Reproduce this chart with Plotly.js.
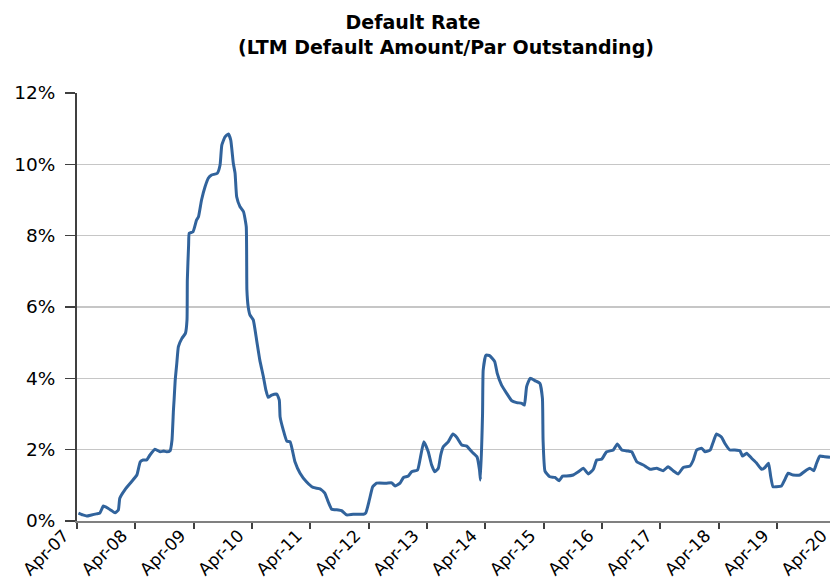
<!DOCTYPE html>
<html>
<head>
<meta charset="utf-8">
<script src="https://cdn.plot.ly/plotly-3.0.1.min.js"></script>
<style>
html, body { margin:0; padding:0; overflow:hidden; background:#fff; width:830px; height:578px; }
#chart { width:850px; height:578px; }
</style>
</head>
<body>
<div id="chart"></div>
<script>
const titleLine1 = "Default Rate";
const titleLine2 = "(LTM Default Amount/Par Outstanding)";

const dates = [
"2007-04-10","2007-05-07","2007-06-01","2007-07-01","2007-08-01","2007-08-22","2007-09-13","2007-10-04","2007-11-01","2007-11-25",
"2007-12-16","2007-12-25","2008-01-28","2008-03-07","2008-04-10","2008-05-01","2008-05-19","2008-06-10","2008-07-01","2008-08-01",
"2008-09-04","2008-09-25","2008-10-13","2008-11-04","2008-11-16","2008-11-25","2008-11-29","2008-12-06","2008-12-16","2008-12-26",
"2009-01-17","2009-02-08","2009-02-18","2009-02-20","2009-02-28","2009-03-04","2009-03-28","2009-04-19","2009-05-01","2009-05-20",
"2009-06-11","2009-07-01","2009-07-22","2009-08-27","2009-09-13","2009-09-24","2009-10-14","2009-11-04","2009-11-19","2009-12-05",
"2009-12-16","2009-12-26","2010-01-16","2010-02-07","2010-02-24","2010-02-28","2010-03-08","2010-03-19","2010-04-09","2010-04-30",
"2010-05-20","2010-06-11","2010-06-27","2010-07-11","2010-08-02","2010-09-03","2010-09-19","2010-09-24","2010-10-14","2010-11-05",
"2010-11-26","2010-12-26","2011-01-27","2011-03-08","2011-04-19","2011-06-01","2011-07-01","2011-07-22","2011-08-13","2011-09-24",
"2011-10-14","2011-11-15","2011-12-26","2012-02-28","2012-03-14","2012-04-05","2012-04-26","2012-05-20","2012-07-22","2012-08-23",
"2012-09-14","2012-10-14","2012-11-05","2012-12-05","2012-12-26","2013-02-01","2013-02-18","2013-03-12","2013-04-09","2013-04-30",
"2013-05-20","2013-06-11","2013-06-26","2013-07-12","2013-08-12","2013-09-10","2013-10-04","2013-11-05","2013-12-06","2014-01-07",
"2014-02-08","2014-02-24","2014-03-02","2014-03-15","2014-03-19","2014-04-05","2014-04-30","2014-05-30","2014-06-15","2014-07-12",
"2014-08-13","2014-09-14","2014-10-15","2014-11-15","2014-12-02","2014-12-16","2015-01-07","2015-02-08","2015-03-09","2015-03-25",
"2015-03-29","2015-04-10","2015-05-10","2015-06-11","2015-07-08","2015-07-29","2015-08-23","2015-10-04","2015-11-05","2015-12-06",
"2016-01-07","2016-02-07","2016-02-28","2016-03-29","2016-04-30","2016-06-11","2016-07-06","2016-08-03","2016-09-13","2016-10-04",
"2016-11-05","2016-12-16","2017-01-27","2017-03-09","2017-04-19","2017-05-20","2017-06-21","2017-07-22","2017-08-23","2017-10-04",
"2017-10-25","2017-11-15","2017-12-16","2018-01-07","2018-02-08","2018-02-24","2018-03-19","2018-04-20","2018-05-10","2018-06-11",
"2018-07-12","2018-08-13","2018-08-29","2018-09-24","2018-10-25","2018-11-26","2018-12-27","2019-01-17","2019-02-08","2019-02-22",
"2019-03-08","2019-03-29","2019-04-30","2019-05-20","2019-06-11","2019-07-12","2019-08-23","2019-10-04","2019-10-25","2019-11-19",
"2019-12-06","2019-12-26","2020-01-27","2020-02-28"
];

const defaultRate = [
0.22,0.17,0.14,0.17,0.20,0.22,0.42,0.38,0.30,0.23,
0.31,0.64,0.89,1.10,1.29,1.66,1.71,1.71,1.85,2.01,
1.94,1.96,1.94,1.97,2.27,3.11,3.39,3.95,4.42,4.89,
5.12,5.26,5.64,6.76,7.74,8.07,8.11,8.44,8.53,9.00,
9.37,9.61,9.70,9.75,9.98,10.54,10.77,10.85,10.68,10.03,
9.75,9.09,8.81,8.67,8.25,6.48,6.01,5.78,5.64,5.07,
4.51,4.05,3.67,3.47,3.53,3.56,3.39,2.92,2.55,2.24,
2.22,1.66,1.34,1.10,0.94,0.90,0.78,0.54,0.33,0.31,
0.29,0.17,0.19,0.19,0.23,0.59,0.96,1.06,1.06,1.07,
0.98,1.06,1.22,1.26,1.38,1.43,1.76,2.22,1.94,1.57,
1.38,1.48,1.85,2.08,2.22,2.44,2.35,2.13,2.10,1.94,
1.80,1.43,1.15,3.02,4.23,4.65,4.63,4.47,4.14,3.81,
3.58,3.37,3.32,3.30,3.25,3.77,4.00,3.93,3.86,3.44,
2.27,1.40,1.24,1.22,1.13,1.26,1.26,1.29,1.38,1.48,
1.32,1.45,1.71,1.73,1.94,1.99,2.16,1.99,1.96,1.94,
1.66,1.57,1.45,1.48,1.41,1.52,1.41,1.32,1.50,1.54,
1.71,1.99,2.04,1.94,1.99,2.18,2.44,2.35,2.18,1.99,
1.99,1.97,1.82,1.90,1.76,1.62,1.45,1.50,1.62,1.24,
0.96,0.96,0.98,1.15,1.34,1.29,1.29,1.43,1.48,1.41,
1.62,1.82,1.80,1.79
];

const yTickVals = [0, 2, 4, 6, 8, 10, 12];
const yTickText = ["0%", "2%", "4%", "6%", "8%", "10%", "12%"];

const trace = {
  x: dates,
  y: defaultRate,
  type: 'scatter',
  mode: 'lines',
  line: { color: '#31639c', width: 3, shape: 'spline', smoothing: 0.4 },
  hoverinfo: 'x+y'
};

const pad = '&nbsp;'.repeat(10);

const layout = {
  width: 850,
  height: 578,
  margin: { l: 77, r: 5, t: 93, b: 57 },
  paper_bgcolor: '#ffffff',
  plot_bgcolor: '#ffffff',
  showlegend: false,
  title: {
    text: '<b>' + titleLine1 + pad + '</b><br><b>' + titleLine2 + '</b>',
    font: { family: 'DejaVu Sans', size: 19, color: '#000000' },
    x: 446 / 850,
    xanchor: 'center',
    y: 1 - 29 / 578,
    yanchor: 'top'
  },
  xaxis: {
    type: 'date',
    range: ['2007-04-01', '2020-06-01'],
    tick0: '2007-04-01',
    dtick: 'M12',
    tickformat: '%b-%y',
    tickangle: -45,
    ticks: 'outside',
    ticklen: 6,
    tickwidth: 2,
    tickcolor: '#404040',
    ticklabelshift: -13,
    ticklabelstandoff: -10,
    showgrid: false,
    zeroline: false,
    showline: true,
    linecolor: '#808080',
    linewidth: 2,
    tickfont: { family: 'DejaVu Sans', size: 17, color: '#000000' },
    fixedrange: true
  },
  yaxis: {
    range: [0, 12],
    tickmode: 'array',
    tickvals: yTickVals,
    ticktext: yTickText,
    ticks: 'outside',
    ticklen: 10,
    tickwidth: 1.5,
    tickcolor: '#404040',
    ticklabelstandoff: 6,
    showgrid: true,
    gridcolor: '#c6c6c6',
    gridwidth: 1.5,
    zeroline: false,
    showline: true,
    linecolor: '#404040',
    linewidth: 2,
    tickfont: { family: 'DejaVu Sans', size: 18.5, color: '#000000' },
    fixedrange: true
  }
};

Plotly.newPlot('chart', [trace], layout, { displayModeBar: false, staticPlot: true });
</script>
</body>
</html>
